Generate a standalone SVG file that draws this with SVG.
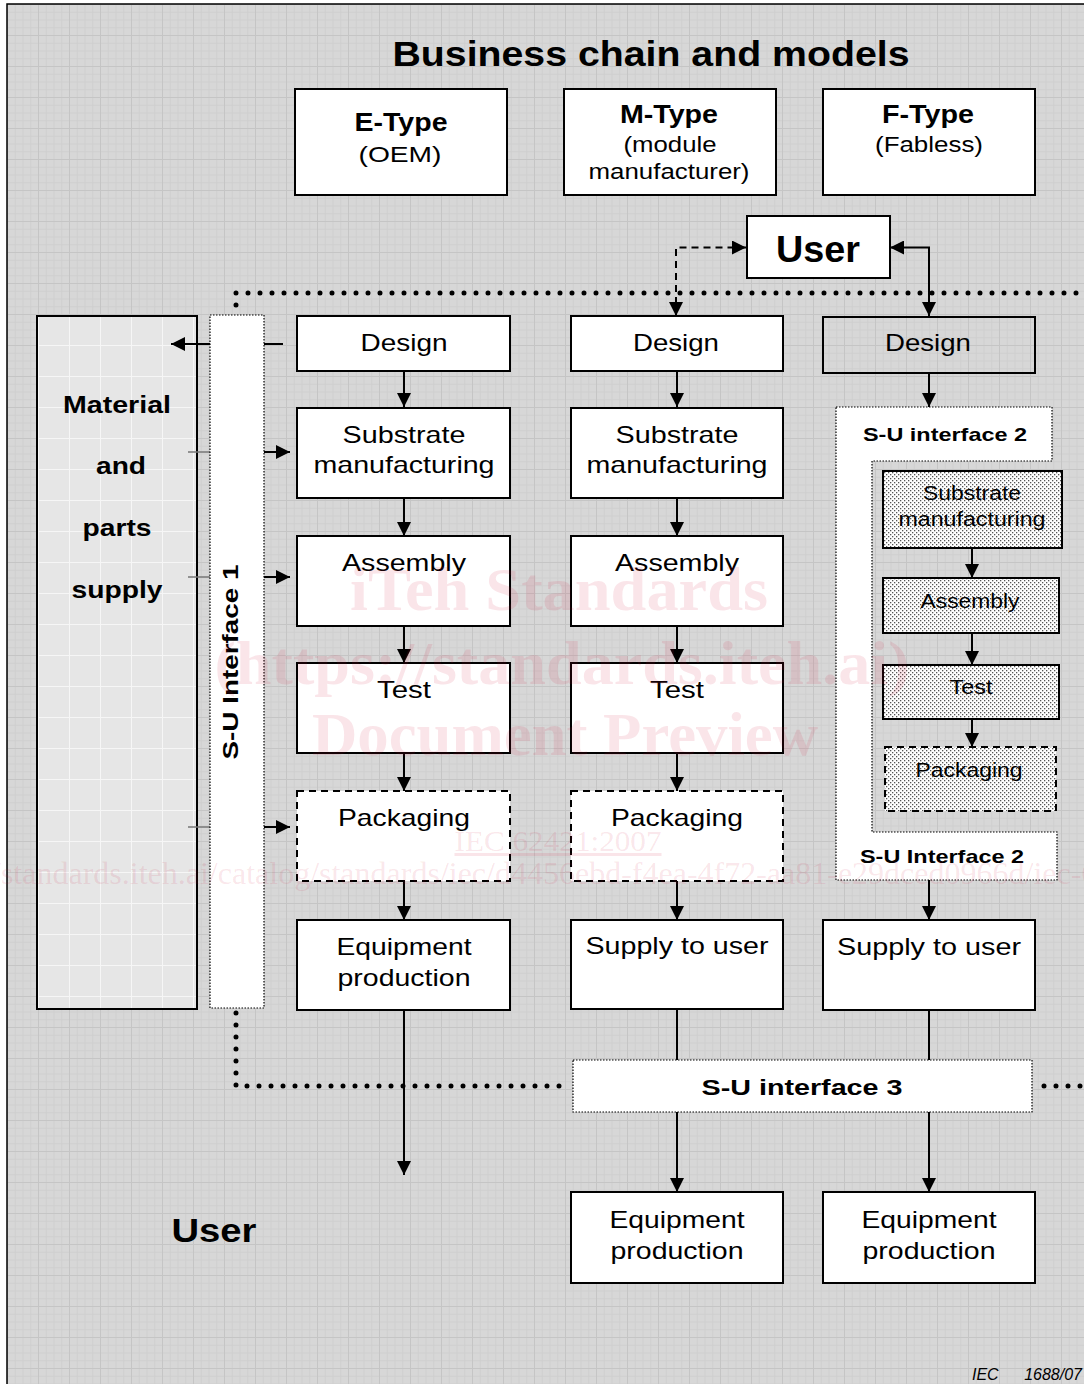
<svg xmlns="http://www.w3.org/2000/svg" width="1084" height="1384" viewBox="0 0 1084 1384">
<style>
text{font-family:"Liberation Sans",Arial,sans-serif;fill:#000}
.b{font-weight:bold}
.box{fill:#fff;stroke:#000;stroke-width:2}
.dbox{fill:#fff;stroke:#000;stroke-width:2;stroke-dasharray:7 5}
.fbox{fill:url(#dots);stroke:#000;stroke-width:2}
.fine{stroke:#000;stroke-width:1.2;stroke-dasharray:1.5 1.5}
.ln{stroke:#000;stroke-width:2;fill:none}
.arr{stroke:#000;stroke-width:2;fill:none;marker-end:url(#ah)}
.dotl{stroke:#000;stroke-width:5;stroke-linecap:round;stroke-dasharray:0 12;fill:none}
.t24{font-size:24px}
.t20{font-size:20px}
.wm{font-family:"Liberation Serif","Times New Roman",serif;fill:#d0103a;fill-opacity:0.11}
</style>
<defs>
<pattern id="grid" width="31" height="31" patternUnits="userSpaceOnUse" x="7" y="4">
<rect width="31" height="31" fill="#d7d7d7"/>
<path d="M0 8.25H31M0 16H31M0 23.75H31M8.25 0V31M16 0V31M23.75 0V31" stroke="#cfcfcf" stroke-width="1"/>
<path d="M0 0.5H31M0.5 0V31" stroke="#c5c5c5" stroke-width="1"/>
</pattern>
<pattern id="grid2" width="31" height="31" patternUnits="userSpaceOnUse" x="7" y="4">
<rect width="31" height="31" fill="#e6e6e6"/>
<path d="M0 0.5H31M0.5 0V31" stroke="#f6f6f6" stroke-width="1"/>
</pattern>
<pattern id="dots" width="4" height="4" patternUnits="userSpaceOnUse">
<rect width="4" height="4" fill="#fff"/>
<rect x="0" y="0" width="1.3" height="1.3" fill="#555"/>
<rect x="2" y="2" width="1.3" height="1.3" fill="#555"/>
</pattern>
<marker id="ah" markerUnits="userSpaceOnUse" markerWidth="15" markerHeight="14" refX="14" refY="7" orient="auto-start-reverse">
<path d="M0 0L14 7L0 14z" fill="#000"/>
</marker>
</defs>

<rect x="0" y="0" width="1084" height="1384" fill="#fff"/>
<rect x="7" y="4" width="1090" height="1400" fill="url(#grid)" stroke="#000" stroke-width="1.5"/>

<text class="b" x="651" y="66" font-size="35" text-anchor="middle" textLength="517" lengthAdjust="spacingAndGlyphs">Business chain and models</text>

<g id="etype">
<rect class="box" x="295" y="89" width="212" height="106"/>
<text class="b" x="401" y="131" font-size="25" text-anchor="middle" textLength="93" lengthAdjust="spacingAndGlyphs">E-Type</text>
<text x="400" y="162" font-size="22" text-anchor="middle" textLength="83" lengthAdjust="spacingAndGlyphs">(OEM)</text>
</g>
<g id="mtype">
<rect class="box" x="564" y="89" width="212" height="106"/>
<text class="b" x="669" y="123" font-size="25" text-anchor="middle" textLength="98" lengthAdjust="spacingAndGlyphs">M-Type</text>
<text x="670" y="152" font-size="22" text-anchor="middle" textLength="93" lengthAdjust="spacingAndGlyphs">(module</text>
<text x="669" y="179" font-size="22" text-anchor="middle" textLength="161" lengthAdjust="spacingAndGlyphs">manufacturer)</text>
</g>
<g id="ftype">
<rect class="box" x="823" y="89" width="212" height="106"/>
<text class="b" x="928" y="123" font-size="25" text-anchor="middle" textLength="92" lengthAdjust="spacingAndGlyphs">F-Type</text>
<text x="929" y="152" font-size="22" text-anchor="middle" textLength="108" lengthAdjust="spacingAndGlyphs">(Fabless)</text>
</g>
<g id="user-top">
<rect class="box" x="747" y="216" width="143" height="62"/>
<text class="b" x="818" y="262" font-size="36" text-anchor="middle" textLength="84" lengthAdjust="spacingAndGlyphs">User</text>
</g>

<g id="boundaries">
<path class="dotl" d="M236 305V293H1090"/>
<path class="dotl" d="M236 1013V1086H566"/>
<path class="dotl" d="M1044 1086H1090"/>
</g>

<g id="material">
<rect x="37" y="316" width="160" height="693" fill="url(#grid2)" stroke="#000" stroke-width="2"/>
<text class="b" x="117" y="413" font-size="24" text-anchor="middle" textLength="108" lengthAdjust="spacingAndGlyphs">Material</text>
<text class="b" x="121" y="474" font-size="24" text-anchor="middle" textLength="50" lengthAdjust="spacingAndGlyphs">and</text>
<text class="b" x="117" y="536" font-size="24" text-anchor="middle" textLength="69" lengthAdjust="spacingAndGlyphs">parts</text>
<text class="b" x="117" y="598" font-size="24" text-anchor="middle" textLength="91" lengthAdjust="spacingAndGlyphs">supply</text>
</g>

<g id="connectors">
<path class="arr" d="M283 344H171"/>
<path d="M188 452H210M188 577H210M188 827H210" stroke="#777" stroke-width="1.5"/>
<path class="arr" d="M264 452H290"/>
<path class="arr" d="M264 577H290"/>
<path class="arr" d="M264 827H290"/>
<path class="arr" d="M404 371V407"/>
<path class="arr" d="M404 498V536"/>
<path class="arr" d="M404 626V663"/>
<path class="arr" d="M404 753V791"/>
<path class="arr" d="M404 881V920"/>
<path class="arr" d="M404 1010V1175"/>
<path class="arr" d="M677 371V407"/>
<path class="arr" d="M677 498V536"/>
<path class="arr" d="M677 626V663"/>
<path class="arr" d="M677 753V791"/>
<path class="arr" d="M677 881V920"/>
<path class="ln" d="M677 1009V1060"/>
<path class="arr" d="M677 1112V1192"/>
<path class="arr" d="M929 373V407"/>
<path class="arr" d="M929 880V920"/>
<path class="ln" d="M929 1010V1060"/>
<path class="arr" d="M929 1112V1192"/>
<path class="arr" d="M972 548V578"/>
<path class="arr" d="M972 633V665"/>
<path class="arr" d="M972 719V747"/>
<path class="arr" d="M676 316V247.5H746" stroke-dasharray="7 5" style="marker-start:url(#ah)"/>
<path class="arr" d="M929 316V247.5H890" style="marker-start:url(#ah)"/>
</g>

<g id="su1">
<rect class="fine" x="210" y="315" width="54" height="693" fill="#fff"/>
<text class="b" transform="translate(238,662) rotate(-90)" font-size="22" text-anchor="middle" textLength="195" lengthAdjust="spacingAndGlyphs">S-U Interface 1</text>
</g>

<g id="e-design"><rect class="box" x="297" y="316" width="213" height="55"/><text class="t24" x="404" y="351" text-anchor="middle" textLength="87" lengthAdjust="spacingAndGlyphs">Design</text></g>
<g id="e-substrate"><rect class="box" x="297" y="408" width="213" height="90"/><text class="t24" x="404" y="443" text-anchor="middle" textLength="123" lengthAdjust="spacingAndGlyphs">Substrate</text><text class="t24" x="404" y="473" text-anchor="middle" textLength="181" lengthAdjust="spacingAndGlyphs">manufacturing</text></g>
<g id="e-assembly"><rect class="box" x="297" y="536" width="213" height="90"/><text class="t24" x="404" y="571" text-anchor="middle" textLength="124" lengthAdjust="spacingAndGlyphs">Assembly</text></g>
<g id="e-test"><rect class="box" x="297" y="663" width="213" height="90"/><text class="t24" x="404" y="698" text-anchor="middle" textLength="54" lengthAdjust="spacingAndGlyphs">Test</text></g>
<g id="e-packaging"><rect class="dbox" x="297" y="791" width="213" height="90"/><text class="t24" x="404" y="826" text-anchor="middle" textLength="132" lengthAdjust="spacingAndGlyphs">Packaging</text></g>
<g id="e-equipment"><rect class="box" x="297" y="920" width="213" height="90"/><text class="t24" x="404" y="955" text-anchor="middle" textLength="135" lengthAdjust="spacingAndGlyphs">Equipment</text><text class="t24" x="404" y="986" text-anchor="middle" textLength="133" lengthAdjust="spacingAndGlyphs">production</text></g>

<g id="m-design"><rect class="box" x="571" y="316" width="212" height="55"/><text class="t24" x="676" y="351" text-anchor="middle" textLength="86" lengthAdjust="spacingAndGlyphs">Design</text></g>
<g id="m-substrate"><rect class="box" x="571" y="408" width="212" height="90"/><text class="t24" x="677" y="443" text-anchor="middle" textLength="123" lengthAdjust="spacingAndGlyphs">Substrate</text><text class="t24" x="677" y="473" text-anchor="middle" textLength="181" lengthAdjust="spacingAndGlyphs">manufacturing</text></g>
<g id="m-assembly"><rect class="box" x="571" y="536" width="212" height="90"/><text class="t24" x="677" y="571" text-anchor="middle" textLength="124" lengthAdjust="spacingAndGlyphs">Assembly</text></g>
<g id="m-test"><rect class="box" x="571" y="663" width="212" height="90"/><text class="t24" x="677" y="698" text-anchor="middle" textLength="54" lengthAdjust="spacingAndGlyphs">Test</text></g>
<g id="m-packaging"><rect class="dbox" x="571" y="791" width="212" height="90"/><text class="t24" x="677" y="826" text-anchor="middle" textLength="132" lengthAdjust="spacingAndGlyphs">Packaging</text></g>
<g id="m-supply"><rect class="box" x="571" y="920" width="212" height="89"/><text class="t24" x="677" y="954" text-anchor="middle" textLength="183" lengthAdjust="spacingAndGlyphs">Supply to user</text></g>
<g id="m-equipment"><rect class="box" x="571" y="1192" width="212" height="91"/><text class="t24" x="677" y="1228" text-anchor="middle" textLength="135" lengthAdjust="spacingAndGlyphs">Equipment</text><text class="t24" x="677" y="1259" text-anchor="middle" textLength="133" lengthAdjust="spacingAndGlyphs">production</text></g>

<g id="f-design"><rect x="823" y="317" width="212" height="56" fill="none" stroke="#000" stroke-width="2"/><text class="t24" x="928" y="351" text-anchor="middle" textLength="86" lengthAdjust="spacingAndGlyphs">Design</text></g>
<g id="su2">
<path class="fine" d="M836 407H1052V461H872V832H1057V880H836Z" fill="#fff"/>
<text class="b" x="945" y="441" font-size="19" text-anchor="middle" textLength="164" lengthAdjust="spacingAndGlyphs">S-U interface 2</text>
<text class="b" x="942" y="863" font-size="19" text-anchor="middle" textLength="164" lengthAdjust="spacingAndGlyphs">S-U Interface 2</text>
</g>
<g id="f-substrate"><rect class="fbox" x="883" y="471" width="179" height="77"/><text class="t20" x="972" y="500" text-anchor="middle" textLength="98" lengthAdjust="spacingAndGlyphs">Substrate</text><text class="t20" x="972" y="526" text-anchor="middle" textLength="147" lengthAdjust="spacingAndGlyphs">manufacturing</text></g>
<g id="f-assembly"><rect class="fbox" x="883" y="578" width="176" height="55"/><text class="t20" x="970" y="608" text-anchor="middle" textLength="99" lengthAdjust="spacingAndGlyphs">Assembly</text></g>
<g id="f-test"><rect class="fbox" x="883" y="665" width="176" height="54"/><text class="t20" x="971" y="694" text-anchor="middle" textLength="43" lengthAdjust="spacingAndGlyphs">Test</text></g>
<g id="f-packaging"><rect class="fbox" x="885" y="747" width="171" height="64" stroke-dasharray="7 5"/><text class="t20" x="969" y="777" text-anchor="middle" textLength="107" lengthAdjust="spacingAndGlyphs">Packaging</text></g>
<g id="f-supply"><rect class="box" x="823" y="920" width="212" height="90"/><text class="t24" x="929" y="955" text-anchor="middle" textLength="184" lengthAdjust="spacingAndGlyphs">Supply to user</text></g>
<g id="f-equipment"><rect class="box" x="823" y="1192" width="212" height="91"/><text class="t24" x="929" y="1228" text-anchor="middle" textLength="135" lengthAdjust="spacingAndGlyphs">Equipment</text><text class="t24" x="929" y="1259" text-anchor="middle" textLength="133" lengthAdjust="spacingAndGlyphs">production</text></g>

<g id="su3">
<rect class="fine" x="573" y="1060" width="459" height="52" fill="#fff"/>
<text class="b" x="802" y="1095" font-size="22" text-anchor="middle" textLength="201" lengthAdjust="spacingAndGlyphs">S-U interface 3</text>
</g>

<g id="user-bottom">
<text class="b" x="214" y="1242" font-size="34" text-anchor="middle" textLength="85" lengthAdjust="spacingAndGlyphs">User</text>
</g>

<text x="972" y="1380" font-size="16" font-style="italic">IEC</text>
<text x="1082" y="1380" font-size="16" font-style="italic" text-anchor="end">1688/07</text>

<g id="watermark">
<text class="wm" x="559" y="610" font-size="62" font-weight="bold" text-anchor="middle" textLength="418" lengthAdjust="spacingAndGlyphs">iTeh Standards</text>
<text class="wm" x="562" y="684" font-size="62" font-weight="bold" text-anchor="middle" textLength="695" lengthAdjust="spacingAndGlyphs">(https://standards.iteh.ai)</text>
<text class="wm" x="565" y="755" font-size="62" font-weight="bold" text-anchor="middle" textLength="506" lengthAdjust="spacingAndGlyphs">Document Preview</text>
<text class="wm" x="558" y="851" font-size="30" text-anchor="middle" textLength="207" lengthAdjust="spacingAndGlyphs" text-decoration="underline">IEC 62421:2007</text>
<text class="wm" x="-88" y="884" font-size="32">https://standards.iteh.ai/catalog/standards/iec/d4456ebd-f4ea-4f72-aa81-e29dced0966d/iec-62421-2007</text>
</g>
</svg>
